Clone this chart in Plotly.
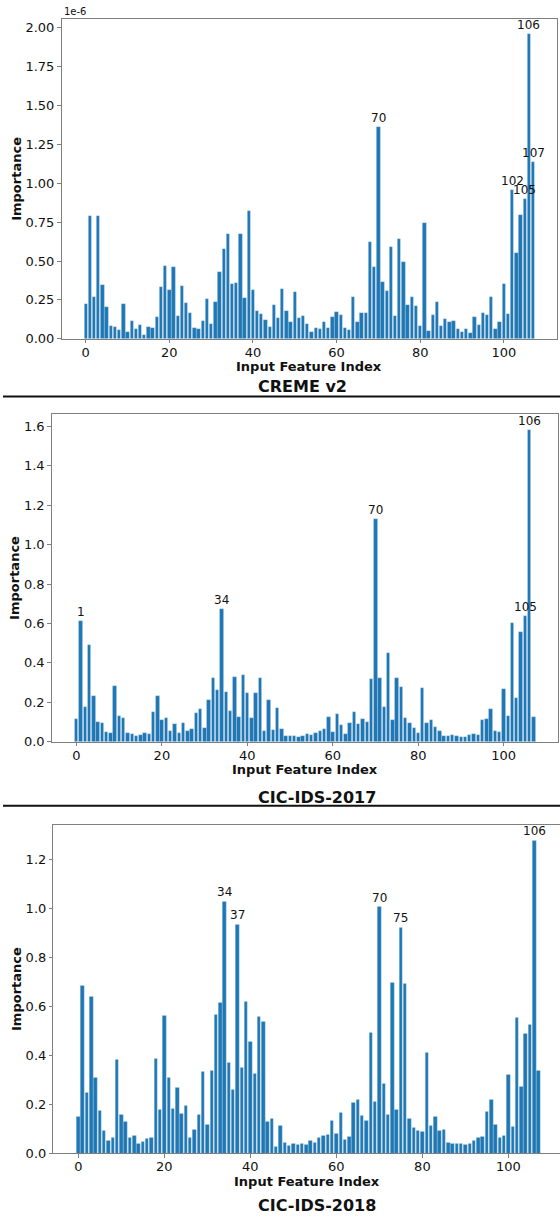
import plotly.graph_objects as go

# ---------------- data ----------------
feature_index = list(range(108))

# CREME v2 importance (in units of 1e-6)
creme_v2 = [
    0.226, 0.79, 0.27, 0.79, 0.345, 0.205, 0.083, 0.079, 0.06, 0.226,
    0.045, 0.115, 0.066, 0.087, 0.028, 0.075, 0.07, 0.138, 0.334, 0.47,
    0.317, 0.462, 0.145, 0.34, 0.234, 0.166, 0.072, 0.064, 0.117, 0.258,
    0.094, 0.238, 0.428, 0.58, 0.675, 0.351, 0.362, 0.673, 0.26, 0.824,
    0.313, 0.177, 0.16, 0.121, 0.075, 0.219, 0.132, 0.32, 0.177, 0.106,
    0.3, 0.134, 0.147, 0.098, 0.043, 0.068, 0.066, 0.109, 0.068, 0.138,
    0.17, 0.153, 0.072, 0.06, 0.268, 0.106, 0.164, 0.164, 0.622, 0.462,
    1.361, 0.368, 0.307, 0.59, 0.145, 0.641, 0.492, 0.217, 0.27, 0.211,
    0.083, 0.748, 0.053, 0.153, 0.236, 0.083, 0.128, 0.109, 0.115, 0.064,
    0.043, 0.064, 0.036, 0.138, 0.089, 0.168, 0.151, 0.268, 0.062, 0.109,
    0.351, 0.16, 0.96, 0.554, 0.8, 0.899, 1.96, 1.135,
]
creme_labels = [70, 102, 105, 106, 107]

cic2017 = [
    0.114, 0.613, 0.176, 0.489, 0.233, 0.102, 0.096, 0.049, 0.045, 0.285,
    0.129, 0.123, 0.044, 0.042, 0.032, 0.037, 0.047, 0.04, 0.149, 0.233,
    0.111, 0.123, 0.057, 0.089, 0.044, 0.097, 0.057, 0.065, 0.144, 0.168,
    0.071, 0.212, 0.324, 0.265, 0.675, 0.252, 0.154, 0.331, 0.126, 0.339,
    0.25, 0.123, 0.25, 0.326, 0.057, 0.213, 0.06, 0.171, 0.065, 0.032,
    0.03, 0.029, 0.027, 0.03, 0.039, 0.037, 0.045, 0.055, 0.067, 0.124,
    0.049, 0.143, 0.084, 0.039, 0.097, 0.151, 0.091, 0.114, 0.099, 0.321,
    1.13, 0.322, 0.175, 0.448, 0.111, 0.326, 0.28, 0.121, 0.096, 0.072,
    0.044, 0.274, 0.096, 0.109, 0.077, 0.054, 0.03, 0.03, 0.034, 0.029,
    0.024, 0.025, 0.034, 0.039, 0.037, 0.109, 0.114, 0.166, 0.055, 0.049,
    0.269, 0.129, 0.603, 0.22, 0.557, 0.636, 1.583, 0.126,
]
cic2017_labels = [1, 34, 70, 105, 106]

cic2018 = [
    0.15, 0.687, 0.25, 0.64, 0.31, 0.175, 0.092, 0.053, 0.066, 0.384,
    0.16, 0.131, 0.065, 0.074, 0.039, 0.05, 0.061, 0.064, 0.386, 0.179,
    0.564, 0.312, 0.184, 0.27, 0.164, 0.195, 0.065, 0.097, 0.158, 0.334,
    0.118, 0.338, 0.568, 0.616, 1.031, 0.373, 0.262, 0.936, 0.349, 0.621,
    0.457, 0.326, 0.561, 0.537, 0.13, 0.142, 0.028, 0.115, 0.045, 0.034,
    0.041, 0.037, 0.041, 0.038, 0.051, 0.043, 0.064, 0.073, 0.078, 0.134,
    0.081, 0.165, 0.057, 0.068, 0.208, 0.219, 0.156, 0.135, 0.492, 0.212,
    1.008, 0.284, 0.16, 0.698, 0.179, 0.924, 0.694, 0.142, 0.106, 0.092,
    0.091, 0.414, 0.115, 0.15, 0.095, 0.099, 0.045, 0.039, 0.039, 0.042,
    0.037, 0.039, 0.053, 0.066, 0.069, 0.17, 0.219, 0.116, 0.065, 0.073,
    0.323, 0.11, 0.556, 0.272, 0.488, 0.528, 1.28, 0.34,
]
cic2018_labels = [34, 37, 70, 75, 106]

panel_titles = ["CREME v2", "CIC-IDS-2017", "CIC-IDS-2018"]
x_ticks = [0, 20, 40, 60, 80, 100]
y_ticks_1 = [0.0, 0.25, 0.5, 0.75, 1.0, 1.25, 1.5, 1.75, 2.0]
y_ticks_2 = [0.0, 0.2, 0.4, 0.6, 0.8, 1.0, 1.2, 1.4, 1.6]
y_ticks_3 = [0.0, 0.2, 0.4, 0.6, 0.8, 1.0, 1.2]

# ---------------- layout helpers ----------------
W, H = 560, 1221
BAR = "#1f77b4"
FONT = "DejaVu Sans"
SPINE = "#7f7f7f"


def px_x(v):
    return v / W


def px_y(v):
    return 1 - v / H


panels = [
    dict(data=creme_v2, labels=creme_labels, x0=61.5, x1=557.3, top=19, bot=341,
         xr=[-5.79, 112.79], yt=y_ticks_1, fmt=".2f",
         xlab_y=369, title_x=302, title_y=389, imp_x=17, mirror_y=True),
    dict(data=cic2017, labels=cic2017_labels, x0=51.7, x1=558.3, top=416.7, bot=746.7,
         xr=[-5.79, 112.79], yt=y_ticks_2, fmt=".1f",
         xlab_y=775, title_x=317, title_y=803, imp_x=15, mirror_y=True),
    dict(data=cic2018, labels=cic2018_labels, x0=53.4, x1=560, top=830, bot=1161,
         xr=[-5.79, 112.0], yt=y_ticks_3, fmt=".1f",
         xlab_y=1189, title_x=317, title_y=1213, imp_x=17, mirror_y=False),
]

fig = go.Figure()
annotations = []
layout = {}

for i, p in enumerate(panels, start=1):
    xa = "x" if i == 1 else f"x{i}"
    ya = "y" if i == 1 else f"y{i}"
    fig.add_trace(go.Bar(
        x=feature_index, y=p["data"], xaxis=xa, yaxis=ya,
        width=0.8, marker=dict(color=BAR, line=dict(color="#cfe0ee", width=0.3)),
        showlegend=False, hoverinfo="x+y",
    ))
    ymax = max(p["data"]) * 1.05
    key = "" if i == 1 else str(i)
    layout[f"xaxis{key}"] = dict(
        domain=[px_x(p["x0"]), px_x(p["x1"])], anchor=ya, range=p["xr"],
        tickvals=x_ticks, ticks="outside", ticklen=3.5, tickcolor=SPINE,
        ticklabelstandoff=-2,
        showline=True, linecolor=SPINE, linewidth=1, mirror=True,
        showgrid=False, zeroline=False,
        tickfont=dict(family=FONT, size=13, color="#111"),
    )
    layout[f"yaxis{key}"] = dict(
        domain=[px_y(p["bot"]), px_y(p["top"])], anchor=xa, range=[0, ymax],
        tickvals=p["yt"], tickformat=p["fmt"], ticks="outside", ticklen=3.5,
        tickcolor=SPINE, showline=True, linecolor=SPINE, linewidth=1,
        mirror=p["mirror_y"], showgrid=False, zeroline=False,
        tickfont=dict(family=FONT, size=13, color="#111"),
    )
    # bar labels
    for idx in p["labels"]:
        annotations.append(dict(
            x=idx, y=p["data"][idx], xref=xa, yref=ya, text=str(idx),
            showarrow=False, yanchor="bottom", xanchor="center", yshift=0,
            font=dict(family=FONT, size=12, color="#111"),
        ))
    # axis titles
    annotations.append(dict(
        x=px_x((p["x0"] + p["x1"]) / 2), y=px_y(p["xlab_y"]), xref="paper", yref="paper",
        text="<b>Input Feature Index</b>", showarrow=False, xanchor="center", yanchor="middle",
        font=dict(family=FONT, size=13, color="#111"),
    ))
    annotations.append(dict(
        x=px_x(p["imp_x"]), y=px_y((p["top"] + p["bot"]) / 2), xref="paper", yref="paper",
        text="<b>Importance</b>", showarrow=False, textangle=-90,
        xanchor="center", yanchor="middle",
        font=dict(family=FONT, size=13, color="#111"),
    ))
    annotations.append(dict(
        x=px_x(p["title_x"]), y=px_y(p["title_y"]), xref="paper", yref="paper",
        text=f"<b>{panel_titles[i - 1]}</b>", showarrow=False,
        xanchor="center", yanchor="middle",
        font=dict(family=FONT, size=16, color="#111"),
    ))

# scale factor label for CREME v2
annotations.append(dict(
    x=px_x(62), y=px_y(12), xref="paper", yref="paper", text="1e-6",
    showarrow=False, xanchor="left", yanchor="middle",
    font=dict(family=FONT, size=10, color="#111"),
))

shapes = [
    dict(type="line", xref="paper", yref="paper", x0=px_x(3), x1=1,
         y0=px_y(399), y1=px_y(399), line=dict(color="#111", width=2)),
    dict(type="line", xref="paper", yref="paper", x0=px_x(3), x1=1,
         y0=px_y(811), y1=px_y(811), line=dict(color="#111", width=2)),
]

fig.update_layout(
    width=W, height=H, margin=dict(l=0, r=0, t=0, b=0),
    paper_bgcolor="white", plot_bgcolor="white",
    annotations=annotations, shapes=shapes, bargap=0,
    **layout,
)

fig.write_html(
    "out.html",
    config={"displayModeBar": False},
    post_script="document.body.style.margin='0';document.body.style.overflow='hidden';",
)
